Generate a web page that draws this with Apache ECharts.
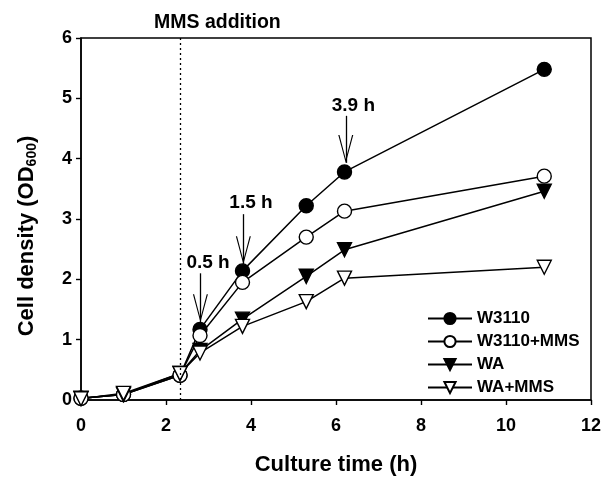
<!DOCTYPE html>
<html><head><meta charset="utf-8">
<script src="https://cdn.jsdelivr.net/npm/echarts@6/dist/echarts.min.js"></script>
<style>html,body{margin:0;padding:0;background:#fff}#c{width:605px;height:481px}</style>
</head><body><div id="c"></div>
<script>
var times = [0, 1, 2.33, 2.8, 3.8, 5.3, 6.2, 10.9];
var w3110 = [0.03, 0.09, 0.41, 1.17, 2.14, 3.22, 3.78, 5.48];
var w3110mms = [0.03, 0.09, 0.41, 1.07, 1.95, 2.70, 3.13, 3.71];
var wa = [0.03, 0.09, 0.44, 0.82, 1.34, 2.05, 2.49, 3.46];
var wamms = [0.02, 0.11, 0.44, 0.78, 1.22, 1.63, 2.02, 2.20];
var xTicks = [0, 2, 4, 6, 8, 10, 12];
var yTicks = [0, 1, 2, 3, 4, 5, 6];
var mmsTime = 2.33;
var arrows = [
  {label: '0.5 h', x: 2.81, top: 2.10, bottom: 1.29, lx: 2.99, ly: 2.28},
  {label: '1.5 h', x: 3.82, top: 3.08, bottom: 2.25, lx: 4.0, ly: 3.27},
  {label: '3.9 h', x: 6.23, top: 4.71, bottom: 3.93, lx: 6.41, ly: 4.88}
];

function pairs(ys){ return times.map(function(t,i){ return [t, ys[i]]; }); }
var FONT = 'Liberation Sans, Arial, sans-serif';
var chart = echarts.init(document.getElementById('c'));
// open V arrowhead, tip at the symbol centre
var vPath = 'path://M7.5,28 L15,56 L13.8,56 L7.5,32 L1.2,56 L0,56 Z M7.5,0 L7.6,0 L7.5,0.1 Z';

function mkSeries(name, ys, symbol, fill, rot, size){
  return {
    name: name, type: 'line', data: pairs(ys),
    symbol: symbol, symbolSize: size || 14, symbolRotate: rot || 0,
    showAllSymbol: true,
    lineStyle: {color: '#000', width: 1.5},
    itemStyle: {color: fill, borderColor: '#000', borderWidth: 1.4},
    emphasis: {disabled: true},
    z: 3
  };
}

var s1 = mkSeries('W3110', w3110, 'circle', '#000');
s1.markLine = {
  silent: true, animation: false,
  symbol: ['none', vPath], symbolSize: [15, 56],
  lineStyle: {color: '#000', width: 1.3, type: 'solid'},
  label: {show: false},
  data: arrows.map(function(a){ return [{coord: [a.x, a.top]}, {coord: [a.x, a.bottom]}]; })
    .concat([[{coord: [mmsTime, 0], symbol: 'none', lineStyle: {type: [2, 3], width: 1.3}}, {coord: [mmsTime, 6], symbol: 'none'}]])
};
s1.markPoint = {
  silent: true, animation: false, symbol: 'circle', symbolSize: 0,
  label: {show: true, formatter: '{b}', color: '#000', fontFamily: FONT, fontWeight: 'bold', fontSize: 19, position: 'inside'},
  data: arrows.map(function(a){ return {name: a.label, coord: [a.lx, a.ly]}; })
};

var option = {
  animation: false,
  title: {text: 'MMS addition', left: 154, top: 13, padding: 0,
    textStyle: {fontFamily: FONT, fontWeight: 'bold', fontSize: 19.5, color: '#000'}},
  grid: {left: 81, right: 14, top: 38, bottom: 75.5, show: true, borderColor: '#000', borderWidth: 1.5, backgroundColor: 'transparent'},
  legend: {
    orient: 'vertical', left: 422, top: 305, itemGap: 6, itemWidth: 44, itemHeight: 14,
    textStyle: {fontFamily: FONT, fontWeight: 'bold', fontSize: 17, color: '#000'},
    data: ['W3110', 'W3110+MMS', 'WA', 'WA+MMS']
  },
  xAxis: {
    type: 'value', min: 0, max: 12, interval: 2,
    name: 'Culture time (h)', nameLocation: 'middle', nameGap: 54,
    nameTextStyle: {fontFamily: FONT, fontWeight: 'bold', fontSize: 22, color: '#000'},
    axisLine: {lineStyle: {color: '#000', width: 1.5}},
    axisTick: {show: true, length: 5, lineStyle: {color: '#000', width: 1.4}},
    axisLabel: {fontFamily: FONT, fontWeight: 'bold', fontSize: 18, color: '#000', margin: 17,
      formatter: function(v){ return xTicks.indexOf(v) >= 0 ? String(v) : ''; }},
    splitLine: {show: false}
  },
  yAxis: {
    type: 'value', min: 0, max: 6, interval: 1,
    name: 'Cell density (OD{sub|600})', nameLocation: 'middle', nameGap: 42,
    nameTextStyle: {fontFamily: FONT, fontWeight: 'bold', fontSize: 22, color: '#000', padding: [0, 34, 0, 0],
      rich: {sub: {fontFamily: FONT, fontWeight: 'bold', fontSize: 14, color: '#000', padding: [10, 0, 0, 0]}}},
    axisLine: {lineStyle: {color: '#000', width: 1.5}},
    axisTick: {show: true, length: 5, lineStyle: {color: '#000', width: 1.4}},
    axisLabel: {fontFamily: FONT, fontWeight: 'bold', fontSize: 18, color: '#000', margin: 9,
      formatter: function(v){ return yTicks.indexOf(v) >= 0 ? String(v) : ''; }},
    splitLine: {show: false}
  },
  series: [
    s1,
    mkSeries('W3110+MMS', w3110mms, 'circle', '#fff'),
    mkSeries('WA', wa, 'triangle', '#000', 180, 14),
    mkSeries('WA+MMS', wamms, 'triangle', '#fff', 180, 14)
  ]
};
chart.setOption(option);
</script></body></html>
